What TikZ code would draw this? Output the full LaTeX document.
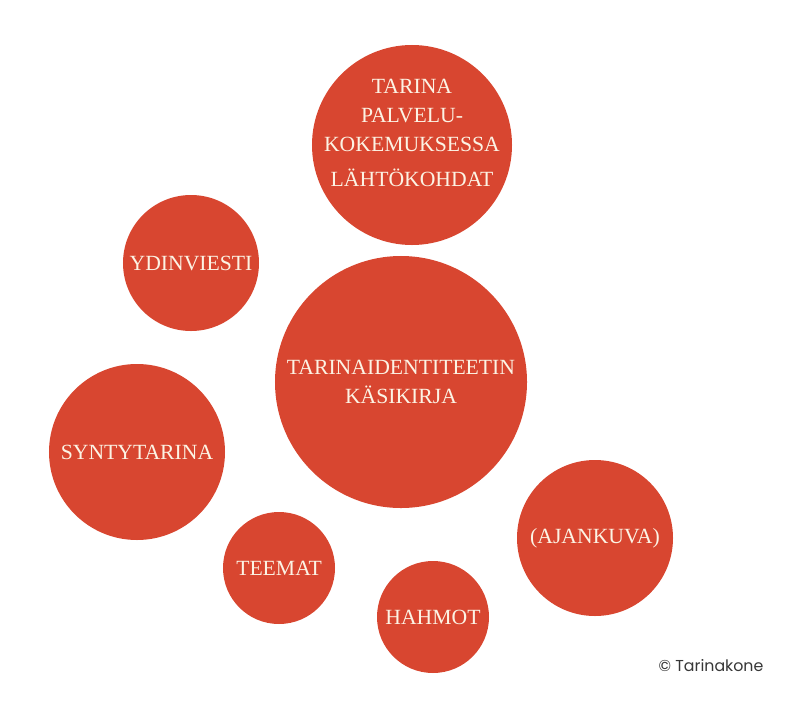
\documentclass[tikz,border=0pt]{standalone}
\usepackage{fontspec}
\setmainfont{Liberation Serif}
\newfontfamily\merkkifont{Poppins}
\usepackage{tikz}
\definecolor{pallo}{RGB}{216,70,48}
\definecolor{pallonteksti}{RGB}{252,243,228}
\definecolor{merkkiharmaa}{RGB}{55,55,55}

\begin{document}
\begin{tikzpicture}[x=0.03cm, y=-0.03cm,
		bubble/.style={circle, fill=pallo, inner sep=0pt, text=pallonteksti, align=center, font=\fontsize{18.5}{25}\selectfont},
		bubbletext/.style={text=pallonteksti, align=center, font=\fontsize{18.5}{25}\selectfont}]
				\useasboundingbox (0,0) rectangle (807,724);
				\node (kokemus) [bubble, minimum size=6cm] at (412,145) {};
				\node (kokemusteksti) [bubbletext] at (412,133) {TARINA\\PALVELU-\\KOKEMUKSESSA\\[5pt]LÄHTÖKOHDAT};
				\node (ydin) [bubble, minimum size=4.08cm] at (191,263) {YDINVIESTI};
				\node (kasikirja) [bubble, minimum size=7.56cm] at (401,382) {TARINAIDENTITEETIN\\KÄSIKIRJA};
				\node (synty) [bubble, minimum size=5.28cm] at (137,452) {SYNTYTARINA};
				\node (teemat) [bubble, minimum size=3.36cm] at (279,568) {TEEMAT};
				\node (hahmot) [bubble, minimum size=3.36cm] at (433,617) {HAHMOT};
				\node (ajankuva) [bubble, minimum size=4.68cm] at (595,538) {(AJANKUVA)};
				
				% tekijanoikeus
				\node (tekija) [text=merkkiharmaa, font=\merkkifont\fontsize{13.5}{16}\selectfont] at (711,666) {© Tarinakone};
		\end{tikzpicture}
\end{document}
